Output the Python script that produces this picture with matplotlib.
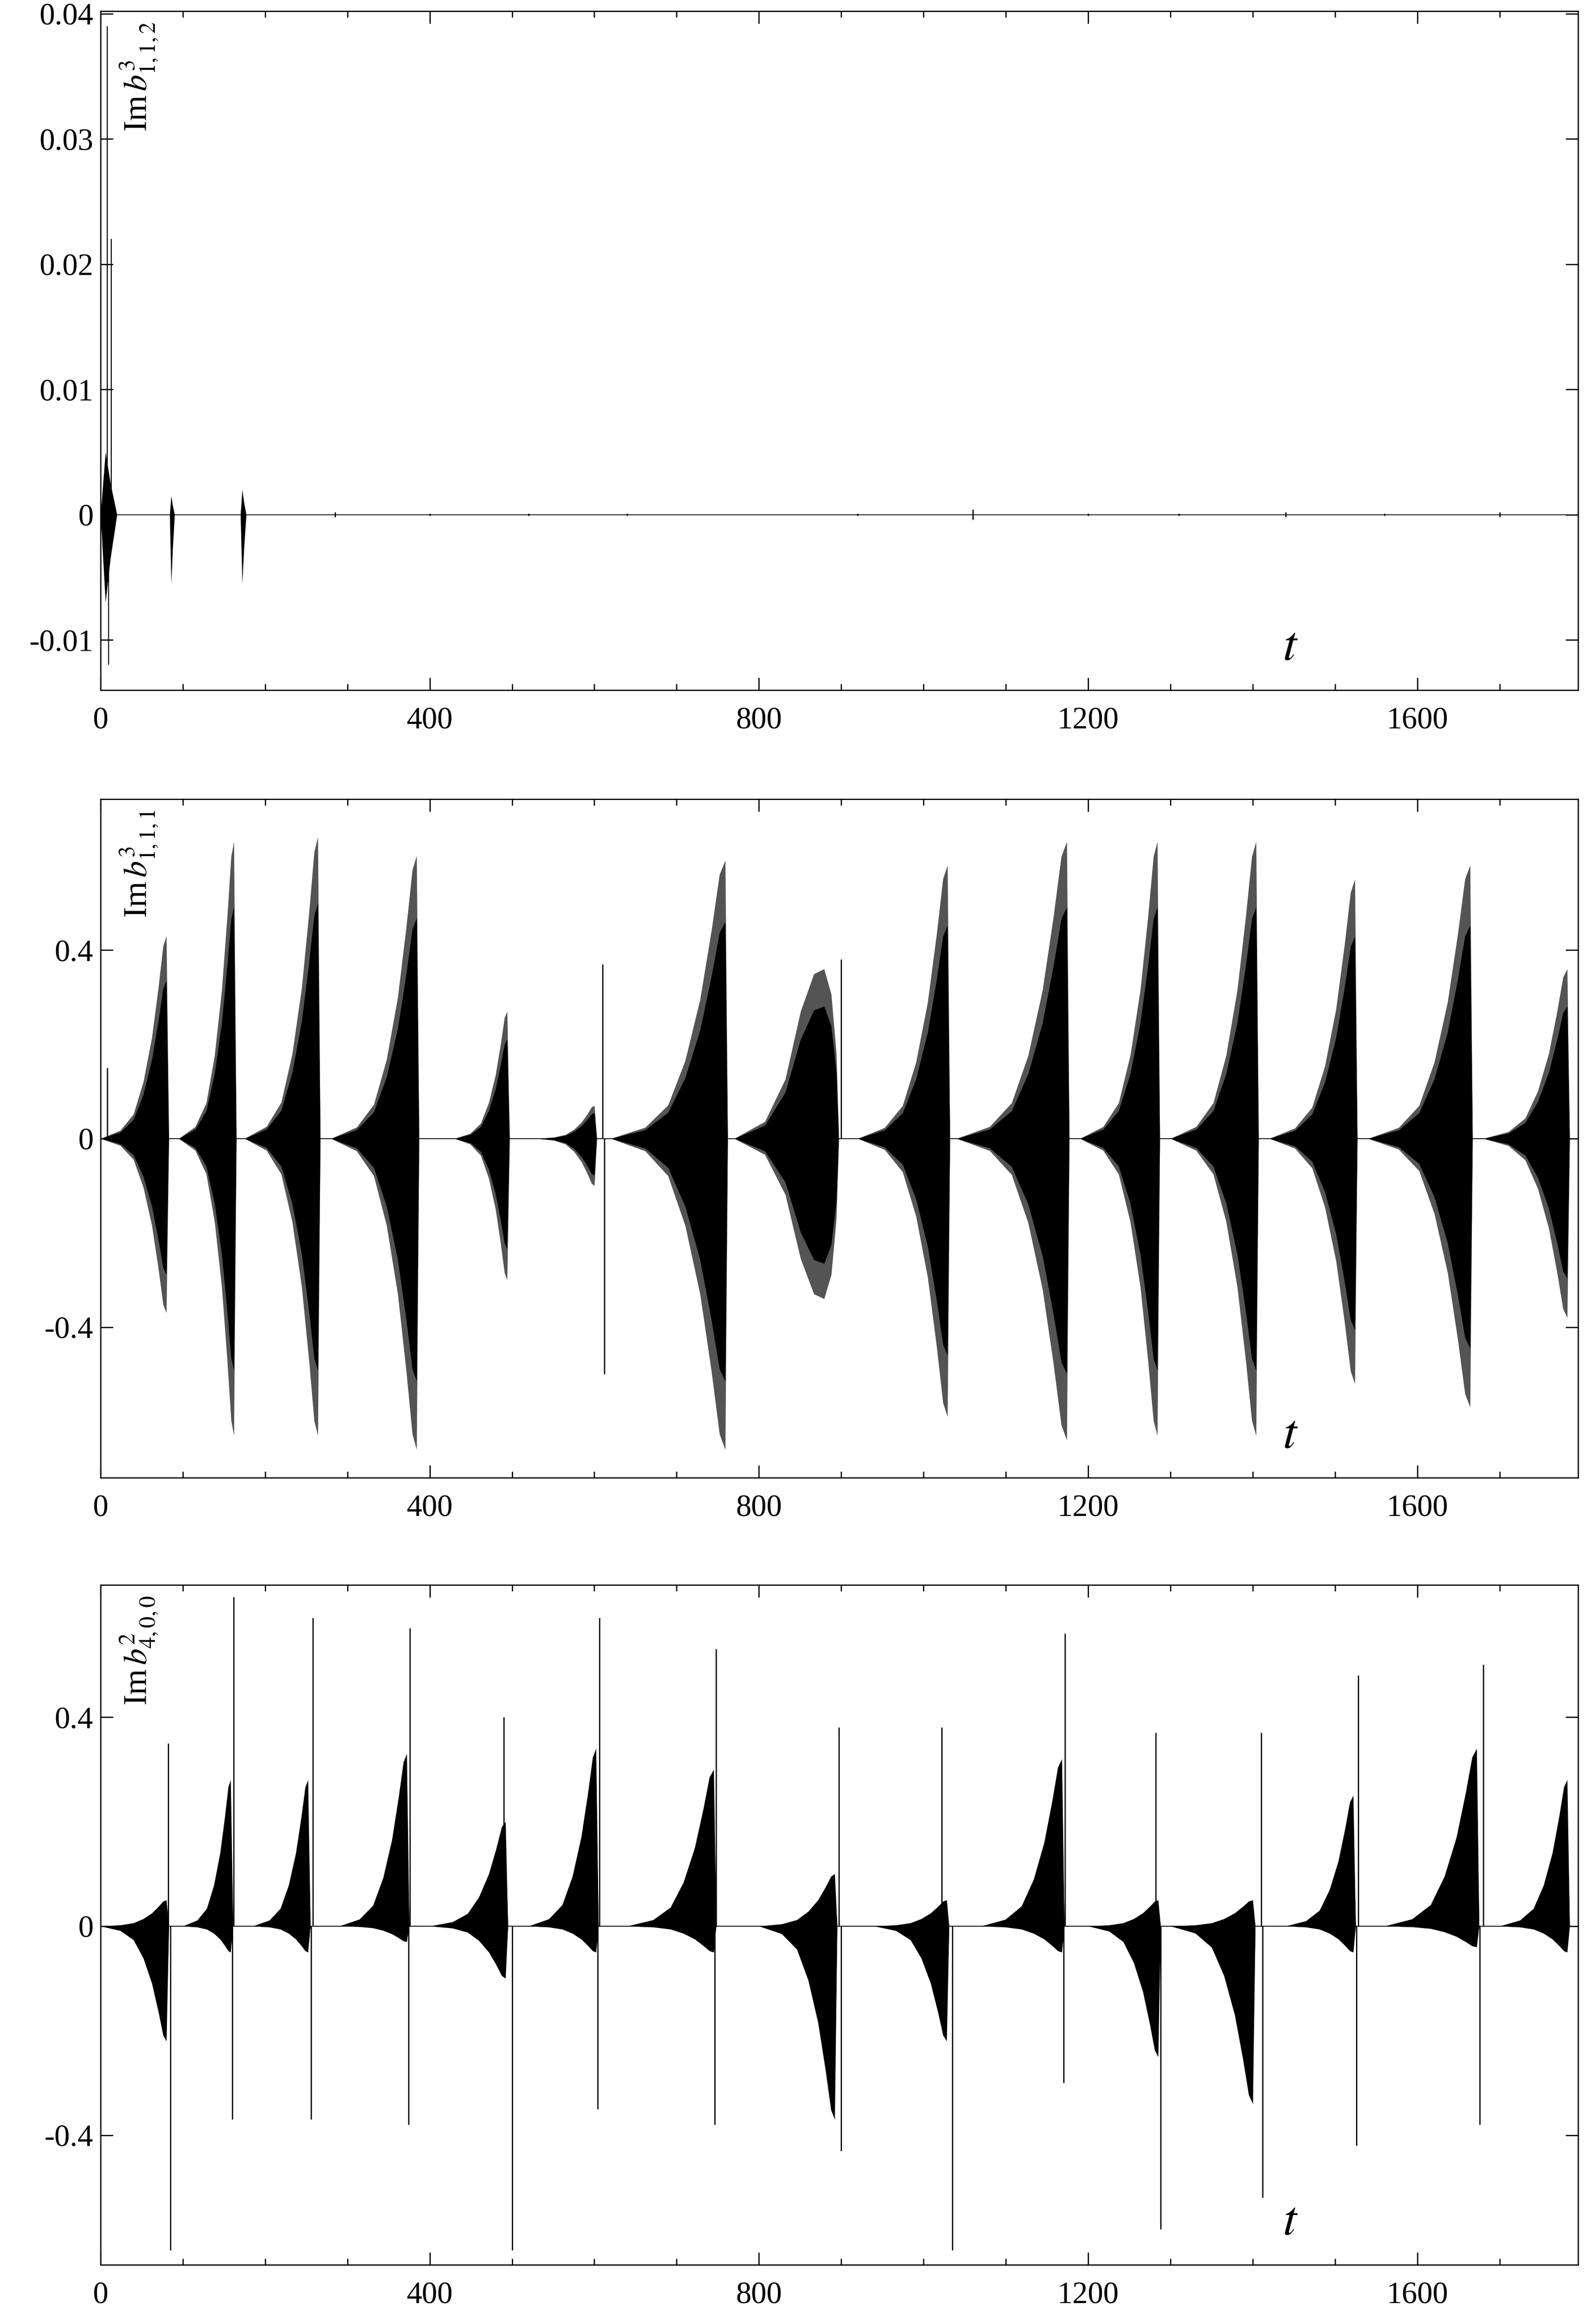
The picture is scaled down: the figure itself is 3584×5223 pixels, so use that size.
import matplotlib
matplotlib.use("Agg")
import matplotlib.pyplot as plt
from matplotlib.ticker import MultipleLocator

plt.rcParams['font.family'] = ['Liberation Serif', 'DejaVu Serif']
plt.rcParams['mathtext.fontset'] = 'stix'

# envelope growth profile (fraction of burst duration, fraction of peak)
prof_x = [0.0, 0.3, 0.5, 0.65, 0.78, 0.88, 0.95, 1.0]
prof_y = [0.0, 0.04, 0.12, 0.28, 0.5, 0.75, 0.95, 1.0]
# rounded profile (burst 8 of panel 2)
round_x = [0.0, 0.3, 0.5, 0.65, 0.78, 0.88, 0.95, 1.0]
round_y = [0.0, 0.1, 0.35, 0.75, 0.97, 1.0, 0.85, 0.5]

# Panel 1 data: Im b^3_{1,1,2}
p1_bursts_start = [0, 84, 170]
p1_bursts_end = [20, 90, 177]
p1_pos = [0.005, 0.0015, 0.0020]
p1_neg = [-0.007, -0.0055, -0.0055]
p1_spike_t = [8, 10, 13]
p1_spike_v = [0.039, -0.012, 0.022]
p1_blip_t = [285, 400, 520, 640, 920, 1060, 1200, 1310, 1440, 1560, 1700]
p1_blip_v = [0.0002, 0.0001, 0.0001, 0.0001, 0.0001, 0.0004, 0.0001, 0.0001, 0.0002, 0.0001, 0.0002]

# Panel 2 data: Im b^3_{1,1,1}
p2_start = [0, 95, 175, 280, 430, 530, 620, 770, 920, 1040, 1190, 1300, 1420, 1540, 1680]
p2_end = [80, 162, 264, 384, 494, 600, 759, 894, 1029, 1174, 1284, 1404, 1524, 1664, 1782]
p2_pos = [0.43, 0.63, 0.64, 0.60, 0.27, 0.07, 0.59, 0.36, 0.58, 0.63, 0.63, 0.63, 0.55, 0.58, 0.36]
p2_neg = [-0.37, -0.63, -0.63, -0.66, -0.30, -0.10, -0.66, -0.34, -0.59, -0.64, -0.63, -0.63, -0.52, -0.57, -0.38]
p2_round = [False] * 7 + [True] + [False] * 7
p2_spike_t = [610, 612, 900, 8]
p2_spike_v = [0.37, -0.50, 0.38, 0.15]

# Panel 3 data: Im b^2_{4,0,0}
p3_start = [0, 100, 185, 290, 400, 520, 640, 800, 940, 1070, 1200, 1300, 1440, 1560, 1700]
p3_end = [80, 158, 252, 372, 492, 602, 745, 892, 1028, 1168, 1285, 1400, 1522, 1672, 1782]
p3_pos = [0.05, 0.28, 0.28, 0.33, 0.20, 0.34, 0.30, 0.10, 0.05, 0.32, 0.05, 0.05, 0.25, 0.34, 0.28]
p3_neg = [-0.22, -0.05, -0.05, -0.03, -0.10, -0.05, -0.05, -0.37, -0.22, -0.05, -0.25, -0.34, -0.05, -0.04, -0.05]
p3_up_t = [82, 162, 258, 376, 490, 606, 748, 897, 1022, 1172, 1282, 1410, 1528, 1680, 1780]
p3_up_v = [0.35, 0.63, 0.59, 0.57, 0.40, 0.59, 0.53, 0.38, 0.38, 0.56, 0.37, 0.37, 0.48, 0.50, 0.27]
p3_dn_t = [85, 160, 256, 374, 500, 604, 746, 900, 1035, 1170, 1288, 1412, 1526, 1676]
p3_dn_v = [-0.62, -0.37, -0.37, -0.38, -0.62, -0.35, -0.38, -0.43, -0.62, -0.30, -0.58, -0.52, -0.42, -0.38]

xticks = [0, 400, 800, 1200, 1600]

fig = plt.figure(figsize=(10.755, 15.672), dpi=333.33)
L, R = 0.063, 0.989
ax1 = fig.add_axes([L, 0.703, R - L, 0.995 - 0.703])
ax2 = fig.add_axes([L, 0.364, R - L, 0.656 - 0.364])
ax3 = fig.add_axes([L, 0.0255, R - L, 0.318 - 0.0255])


def burst(ax, s, e, pos, neg, col_out='0.33', col_in='black', inner=0.78, rnd=False):
    px, py = (round_x, round_y) if rnd else (prof_x, prof_y)
    xs = [s + f * (e - s) for f in px] + [e + 3]
    up = [pos * f for f in py] + [0]
    dn = [neg * f for f in py] + [0]
    ax.fill_between(xs, dn, up, color=col_out, lw=0)
    ax.fill_between(xs, [inner * v for v in dn], [inner * v for v in up], color=col_in, lw=0)


def style(ax, ylim, yticks, ylabels, label, tpos):
    ax.set_xlim(0, 1795)
    ax.set_ylim(*ylim)
    ax.set_xticks(xticks)
    ax.xaxis.set_minor_locator(MultipleLocator(100))
    ax.set_yticks(yticks)
    ax.set_yticklabels(ylabels)
    ax.tick_params(which='both', direction='in', top=True, right=True, labelsize=15, width=0.6)
    ax.tick_params(which='major', length=6)
    ax.tick_params(which='minor', length=3)
    ax.tick_params(axis='x', pad=8)
    for sp in ax.spines.values():
        sp.set_linewidth(0.6)
    ax.axhline(0, color='black', lw=0.4, zorder=0)
    ax.text(0.012, 0.985, label, transform=ax.transAxes, rotation=90, ha='left', va='top', fontsize=16)
    ax.text(0.8, tpos, r'$t$', transform=ax.transAxes, fontsize=24, ha='left', va='bottom')


# Panel 1
for s, e, p, n in zip(p1_bursts_start, p1_bursts_end, p1_pos, p1_neg):
    ax1.fill_between([s, s + (e - s) * 0.3, s + (e - s) * 0.6, e], [0, n, n * 0.5, 0], [0, p, p * 0.5, 0], color='black', lw=0)
ax1.vlines(p1_spike_t, 0, p1_spike_v, color='black', lw=0.5)
ax1.vlines(p1_blip_t, [-v for v in p1_blip_v], p1_blip_v, color='black', lw=0.6)
style(ax1, (-0.014, 0.0402), [-0.01, 0, 0.01, 0.02, 0.03, 0.04],
      ['-0.01', '0', '0.01', '0.02', '0.03', '0.04'], r'Im$\,b^3_{1,1,2}$', 0.03)

# Panel 2
for s, e, p, n, r in zip(p2_start, p2_end, p2_pos, p2_neg, p2_round):
    burst(ax2, s, e, p, n, rnd=r)
ax2.vlines(p2_spike_t, 0, p2_spike_v, color='black', lw=0.6)
style(ax2, (-0.72, 0.72), [-0.4, 0, 0.4], ['-0.4', '0', '0.4'], r'Im$\,b^3_{1,1,1}$', 0.03)

# Panel 3
for s, e, p, n in zip(p3_start, p3_end, p3_pos, p3_neg):
    burst(ax3, s, e, p, n, col_out='black')
ax3.vlines(p3_up_t, 0, p3_up_v, color='black', lw=0.6)
ax3.vlines(p3_dn_t, p3_dn_v, 0, color='black', lw=0.6)
style(ax3, (-0.648, 0.653), [-0.4, 0, 0.4], ['-0.4', '0', '0.4'], r'Im$\,b^2_{4,0,0}$', 0.03)

fig.savefig('out.png', dpi=333.33)
